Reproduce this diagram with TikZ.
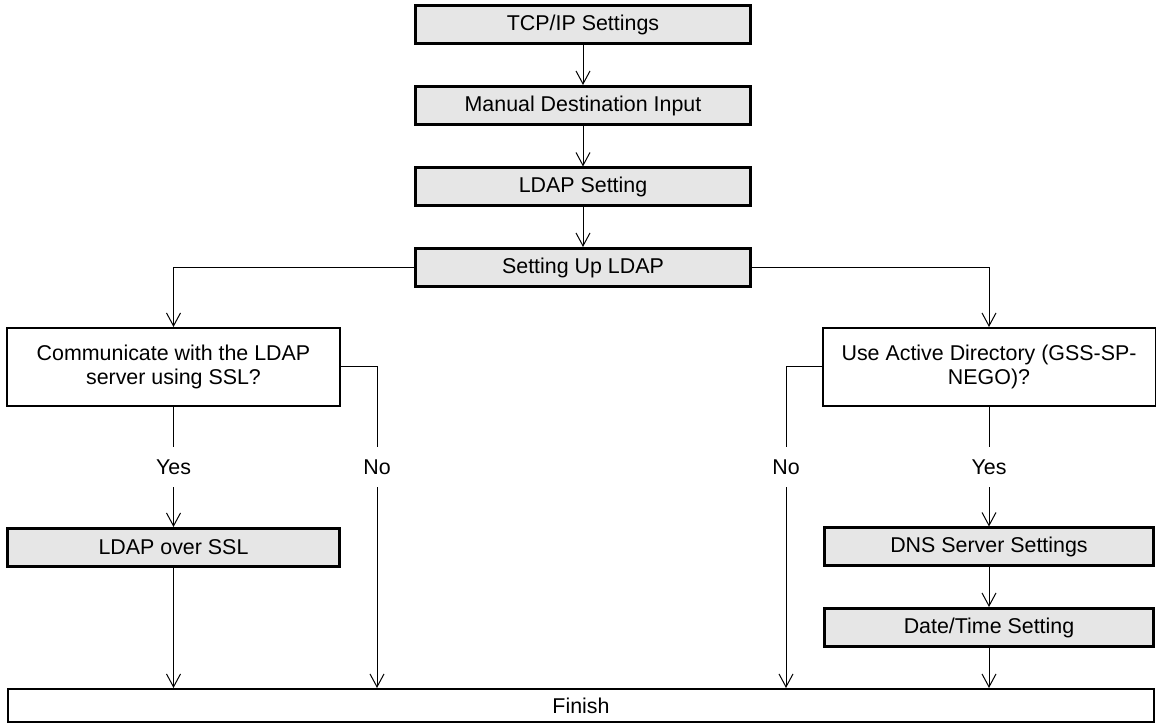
\documentclass[tikz,border=0pt]{standalone}
\usepackage{fontspec}
\setmainfont{Liberation Sans}
\usetikzlibrary{arrows.meta}
\definecolor{boxgray}{HTML}{E6E6E6}
\begin{document}
\begin{tikzpicture}[x=0.5pt,y=-0.5pt,
 font=\fontsize{10.7}{11.7}\selectfont,
 gbox/.style={draw=black,line width=1.5pt,fill=boxgray,minimum width=167.5pt,minimum height=19pt,inner sep=0pt},
 qbox/.style={draw=black,line width=1pt,fill=white,minimum width=166.5pt,minimum height=39pt,inner sep=0pt,align=center},
 finbox/.style={draw=black,line width=1pt,fill=white,minimum width=573pt,minimum height=16.5pt,inner sep=0pt},
 conn/.style={line width=0.5pt,-{Straight Barb[length=6.5pt,width=7pt]}},
 lbl/.style={fill=white,inner sep=0pt,minimum height=20pt,minimum width=14pt}
]
\useasboundingbox (0,0) rectangle (1156,726);
\node[gbox] (tcp) at (583,25) {TCP/IP Settings};
\node[gbox] (man) at (583,105.5) {Manual Destination Input};
\node[gbox] (lset) at (583,187) {LDAP Setting};
\node[gbox] (setup) at (583,267.5) {Setting Up LDAP};
\node[qbox] (ssl) at (173.5,367) {Communicate with the LDAP\\server using SSL?};
\node[qbox] (ad) at (989,367) {Use Active Directory (GSS-SP-\\NEGO)?};
\node[gbox,minimum width=166pt] (ossl) at (173.5,547.5) {LDAP over SSL};
\node[gbox,minimum width=164.5pt] (dns) at (989,547) {DNS Server Settings};
\node[gbox,minimum width=164.5pt] (date) at (989,627.5) {Date/Time Setting};
\node[finbox] (fin) at (581,705.5) {Finish};
\coordinate (nl) at (377,367);
\coordinate (nr) at (786,367);
\draw[conn] (tcp) -- (man);
\draw[conn] (man) -- (lset);
\draw[conn] (lset) -- (setup);
\draw[conn] (setup.west) -| (ssl.north);
\draw[conn] (setup.east) -| (ad.north);
\draw[conn] (ssl) -- node[lbl]{Yes} (ossl);
\draw[conn] (ssl.east) -- (nl) -- node[lbl,pos=0.3115]{No} (nl |- fin.north);
\draw[conn] (ossl) -- (ossl |- fin.north);
\draw[conn] (ad) -- node[lbl]{Yes} (dns);
\draw[conn] (ad.west) -- (nr) -- node[lbl,pos=0.3115]{No} (nr |- fin.north);
\draw[conn] (dns) -- (date);
\draw[conn] (date) -- (date |- fin.north);
\end{tikzpicture}
\end{document}
